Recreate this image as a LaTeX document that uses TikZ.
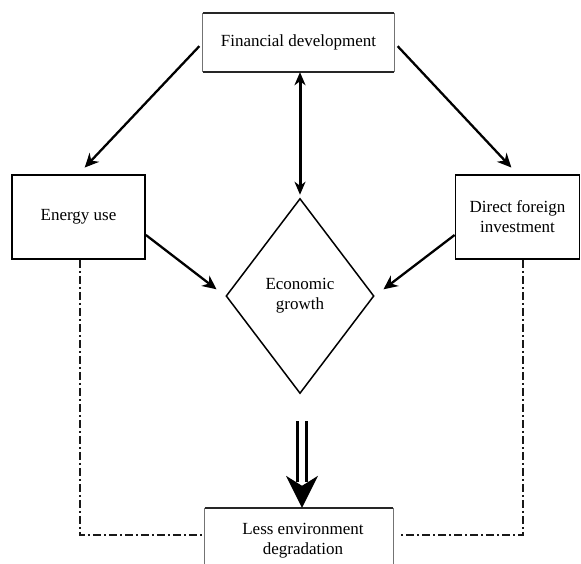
\documentclass[tikz,border=0pt]{standalone}
\usepackage{fontspec}
\setmainfont{Liberation Serif}
\usetikzlibrary{arrows.meta,shapes.geometric}
\begin{document}
\begin{tikzpicture}[x=1pt,y=-1pt,
  txt/.style={font=\fontsize{17}{20}\selectfont, align=center, inner sep=0pt},
  boxa/.style={txt, draw=black, line width=1.8pt},
  boxb/.style={txt, draw=none},
  arr/.style={line width=2.3pt, -{Stealth[length=14pt,width=13pt,inset=4.5pt]}},
  darr/.style={line width=3pt, {Stealth[length=13pt,width=11pt,inset=4pt]}-{Stealth[length=13pt,width=11pt,inset=4pt]}},
  dashdot/.style={line width=1.3pt, black!90, dash pattern=on 8pt off 3pt on 2pt off 3pt},
  thickedge/.style={line width=1.8pt, black!85},
  thinedge/.style={line width=1.1pt, black!55}]
\useasboundingbox (0,0) rectangle (581,563);
\fill[white] (0,0) rectangle (581,563);
% nodes
\node[boxb, minimum width=191pt, minimum height=59pt] (fin) at (298.5,42.5) {Financial development};
\node[boxa, minimum width=133pt, minimum height=84pt] (eng) at (78.5,217) {Energy use};
\node[boxa, minimum width=124pt, minimum height=84pt] (dfi) at (517.5,217) {Direct foreign\\investment};
\node[txt, draw=black, line width=1.5pt, shape=diamond, minimum width=148pt, minimum height=195pt] (eg) at (300,296) {Economic\\growth};
\node[boxb, minimum width=188pt, minimum height=62pt, text depth=0pt] (low) at (299,539) {\hspace*{8pt}Less environment\\\hspace*{8pt}degradation};
% box edges
\draw[thickedge] (fin.north west) -- (fin.north east);
\draw[thickedge] (fin.south west) -- (fin.south east);
\draw[thinedge] (fin.north west) -- (fin.south west);
\draw[thinedge] (fin.north east) -- (fin.south east);
\draw[thickedge] (low.north west) -- (low.north east);
\draw[thinedge] (low.north west) -- (low.south west);
\draw[thinedge] (low.north east) -- (low.south east);
% arrows
\draw[arr, shorten <=5pt, shorten >=9pt] (fin.west) -- (eng.north);
\draw[arr, shorten <=5pt, shorten >=9pt] (fin.east) -- (dfi.north);
\draw[arr, shorten >=11pt] ([yshift=-18pt]eng.east) -- (eg.west);
\draw[arr, shorten >=11pt] ([yshift=-18pt]dfi.west) -- (eg.east);
\draw[darr, shorten >=3pt] (eg.north |- fin.south) -- (eg.north);
% double-line arrow
\coordinate (dd) at (302,421);
\coordinate (ddtip) at (dd |- low.north);
\draw[line width=2.2pt] ([xshift=-4.5pt]dd) -- ([xshift=-4.5pt,yshift=26pt]ddtip);
\draw[line width=2.2pt] ([xshift=4.5pt]dd) -- ([xshift=4.5pt,yshift=26pt]ddtip);
\fill (ddtip) -- ++(-16,-32) -- ++(16,10) -- ++(16,-10) -- cycle;
% dash-dot links
\draw[dashdot] ([xshift=1.5pt]eng.south) |- ([yshift=4pt]low.west);
\draw[dashdot] ([xshift=5.5pt]dfi.south) |- ([xshift=7pt,yshift=4pt]low.east);
\end{tikzpicture}
\end{document}
